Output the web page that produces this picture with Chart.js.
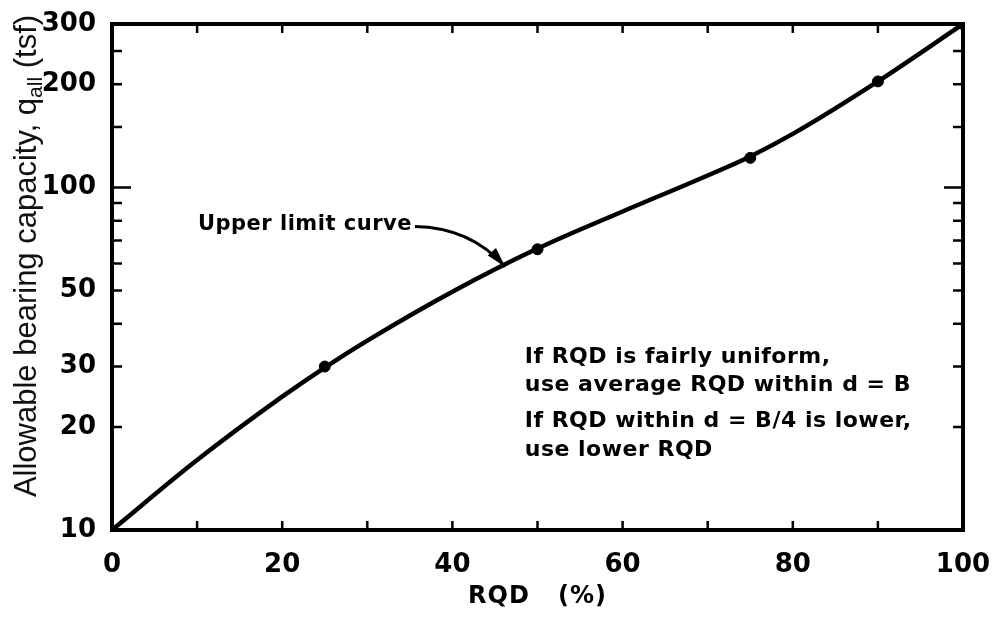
<!DOCTYPE html>
<html>
<head>
<meta charset="utf-8">
<script src="https://cdn.jsdelivr.net/npm/chart.js@4/dist/chart.umd.min.js"></script>
<style>
  html, body { margin:0; padding:0; background:#fff; }
  .box { width:995px; height:630px; position:relative; }
</style>
</head>
<body>
<div class="box"><canvas class="c1"></canvas></div>
<script>
// values
const rqdCurve = [0, 10, 20, 25, 30, 40, 50, 60, 70, 75, 80, 90, 100];
const qCurve   = [10, 16.0, 24.5, 29.8, 35.7, 49.6, 66.3, 85.1, 108.4, 123.2, 143.3, 204, 300];
const rqdPoints = [25, 50, 75, 90, 100];
const qPoints   = [30, 66, 122, 204, 300];
const xLabels = [0, 20, 40, 60, 80, 100];
const yLabels = [10, 20, 30, 50, 100, 200, 300];
const xMarks = [10, 20, 30, 40, 50, 60, 70, 80, 90];
const yMarks = [20, 30, 40, 50, 60, 70, 80, 90, 100, 150, 200, 250];
const noteLines = [
  "If RQD is fairly uniform,",
  "use average RQD within d = B",
  "If RQD within d = B/4 is lower,",
  "use lower RQD"
];

// annotation anchors (data coordinates)
const noteX = 48.5;
const noteY = [32.0, 26.4, 20.8, 17.1];
const curveLabel = { x: 10.1, y: 78, text: "Upper limit curve" };
const arrow = { x0: 35.6, y0: 76.9, cx: 42.1, cy: 76.4, x1: 46.2, y1: 58.7 };

const extras = {
  id: "extras",
  afterDraw(chart) {
    const c = chart.ctx, a = chart.chartArea;
    const sx = chart.scales.x, sy = chart.scales.y;
    c.save();
    c.strokeStyle = "#000";
    c.fillStyle = "#000";

    // frame
    c.lineWidth = 4;
    c.strokeRect(a.left, a.top, a.right - a.left, a.bottom - a.top);

    // inward ticks
    c.lineWidth = 2.5;
    c.beginPath();
    xMarks.forEach(v => {
      const px = sx.getPixelForValue(v);
      c.moveTo(px, a.bottom); c.lineTo(px, a.bottom - 9);
      c.moveTo(px, a.top); c.lineTo(px, a.top + 9);
    });
    yMarks.forEach(v => {
      const py = sy.getPixelForValue(v);
      const len = v == 100 ? 19 : 10;
      c.moveTo(a.left, py); c.lineTo(a.left + len, py);
      c.moveTo(a.right, py); c.lineTo(a.right - len, py);
    });
    c.stroke();

    // axis titles
    c.font = "bold 24px 'DejaVu Sans'";
    c.letterSpacing = "1px";
    c.textAlign = "center";
    c.textBaseline = "middle";
    c.fillText("RQD   (%)", (a.left + a.right) / 2, 597);

    c.letterSpacing = "0px";
    c.save();
    c.translate(36, 256);
    c.rotate(-Math.PI / 2);
    c.textBaseline = "alphabetic";
    c.textAlign = "left";
    const f1 = "31px 'Liberation Sans'", f2 = "21px 'Liberation Sans'";
    const t1 = "Allowable bearing capacity, q", t2 = "all", t3 = " (tsf)";
    c.font = f1; const w1 = c.measureText(t1).width, w3 = c.measureText(t3).width;
    c.font = f2; const w2 = c.measureText(t2).width;
    let x = -(w1 + w2 + w3) / 2;
    c.fillStyle = "#111";
    c.font = f1; c.fillText(t1, x, 0); x += w1;
    c.font = f2; c.fillText(t2, x, 6); x += w2;
    c.font = f1; c.fillText(t3, x, 0);
    c.restore();

    // curve label and arrow
    c.font = "bold 21px 'DejaVu Sans'";
    c.letterSpacing = "0.5px";
    c.textAlign = "left";
    c.textBaseline = "middle";
    c.fillText(curveLabel.text, sx.getPixelForValue(curveLabel.x), sy.getPixelForValue(curveLabel.y));

    const ax0 = sx.getPixelForValue(arrow.x0), ay0 = sy.getPixelForValue(arrow.y0);
    const acx = sx.getPixelForValue(arrow.cx), acy = sy.getPixelForValue(arrow.cy);
    const ax1 = sx.getPixelForValue(arrow.x1), ay1 = sy.getPixelForValue(arrow.y1);
    c.lineWidth = 3;
    c.beginPath();
    c.moveTo(ax0, ay0);
    c.quadraticCurveTo(acx, acy, ax1, ay1);
    c.stroke();
    const ang = Math.atan2(ay1 - acy, ax1 - acx);
    c.beginPath();
    c.moveTo(ax1, ay1);
    c.lineTo(ax1 - 20 * Math.cos(ang) + 5.5 * Math.sin(ang), ay1 - 20 * Math.sin(ang) - 5.5 * Math.cos(ang));
    c.lineTo(ax1 - 20 * Math.cos(ang) - 5.5 * Math.sin(ang), ay1 - 20 * Math.sin(ang) + 5.5 * Math.cos(ang));
    c.closePath();
    c.fill();

    // note
    c.font = "bold 22px 'DejaVu Sans'";
    c.letterSpacing = "0.5px";
    noteLines.forEach((t, i) => {
      c.fillText(t, sx.getPixelForValue(noteX), sy.getPixelForValue(noteY[i]));
    });
    c.restore();
  }
};

{
  const ctx = document.querySelector(".c1");

  new Chart(ctx, {
    type: "scatter",
    data: {
      datasets: [{
        data: rqdCurve.map((v, i) => ({ x: v, y: qCurve[i] })),
        showLine: true,
        borderColor: "#000",
        borderWidth: 4.5,
        pointRadius: 0,
        cubicInterpolationMode: "monotone"
      }, {
        data: rqdPoints.map((v, i) => ({ x: v, y: qPoints[i] })),
        pointRadius: 5.5,
        backgroundColor: "#000",
        borderColor: "#000"
      }]
    },
    options: {
      responsive: true,
      maintainAspectRatio: false,
      animation: false,
      layout: { padding: { top: 24, right: 32, left: 0, bottom: 0 } },
      plugins: { legend: { display: false }, tooltip: { enabled: false } },
      scales: {
        x: {
          type: "linear", min: 0, max: 100,
          afterBuildTicks: s => { s.ticks = xLabels.map(v => ({ value: v })); },
          afterFit: s => { s.height = 100; s.paddingLeft = 0; s.paddingRight = 0; },
          grid: { display: false },
          border: { display: false },
          ticks: { color: "#000", font: { family: "DejaVu Sans", size: 26, weight: "bold" }, padding: 12, maxRotation: 0 }
        },
        y: {
          type: "logarithmic", min: 10, max: 300,
          afterBuildTicks: s => { s.ticks = yLabels.map(v => ({ value: v })); },
          afterFit: s => { s.width = 112; s.paddingTop = 0; s.paddingBottom = 0; },
          grid: { display: false },
          border: { display: false },
          ticks: { color: "#000", font: { family: "DejaVu Sans", size: 26, weight: "bold" }, padding: 8, callback: v => String(v) }
        }
      }
    },
    plugins: [extras]
  });
}
</script>
</body>
</html>
